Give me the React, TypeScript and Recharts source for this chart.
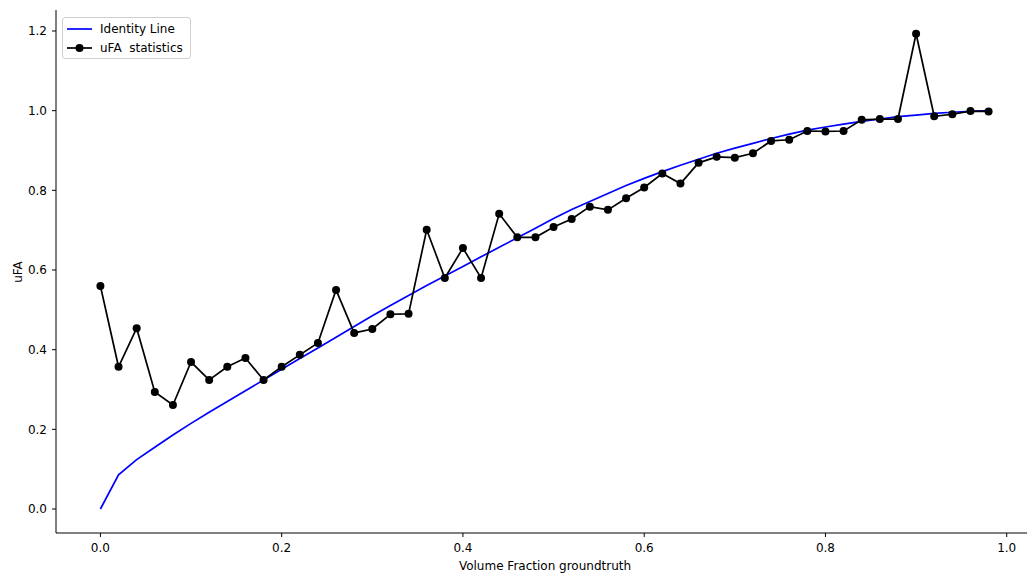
import { LineChart, Line, XAxis, YAxis, Label } from "recharts"

// x positions (volume fraction ground truth)
const fractions = [
  0, 0.02, 0.04, 0.06, 0.08, 0.1, 0.12, 0.14, 0.16, 0.18,
  0.2, 0.22, 0.24, 0.26, 0.28, 0.3, 0.32, 0.34, 0.36, 0.38,
  0.4, 0.42, 0.44, 0.46, 0.48, 0.5, 0.52, 0.54, 0.56, 0.58,
  0.6, 0.62, 0.64, 0.66, 0.68, 0.7, 0.72, 0.74, 0.76, 0.78,
  0.8, 0.82, 0.84, 0.86, 0.88, 0.9, 0.92, 0.94, 0.96, 0.98,
]

const identityLine = [
  0.0, 0.086, 0.124, 0.155, 0.186, 0.215, 0.243, 0.27, 0.297, 0.324,
  0.351, 0.378, 0.404, 0.431, 0.458, 0.485, 0.511, 0.536, 0.561, 0.585,
  0.609, 0.633, 0.657, 0.681, 0.705, 0.729, 0.752, 0.772, 0.792, 0.812,
  0.83, 0.847, 0.863, 0.878, 0.893, 0.906, 0.918, 0.93, 0.941, 0.951,
  0.959, 0.966, 0.973, 0.979, 0.985, 0.989, 0.993, 0.996, 0.998, 1.0,
]

const ufaStats = [
  0.56, 0.357, 0.454, 0.294, 0.261, 0.369, 0.324, 0.357, 0.379, 0.324,
  0.357, 0.387, 0.417, 0.55, 0.442, 0.452, 0.489, 0.49, 0.701, 0.58,
  0.655, 0.58, 0.741, 0.682, 0.682, 0.708, 0.728, 0.759, 0.751, 0.78,
  0.807, 0.842, 0.817, 0.869, 0.884, 0.882, 0.893, 0.924, 0.927, 0.949,
  0.948, 0.949, 0.977, 0.979, 0.979, 1.193, 0.986, 0.991, 0.999, 0.998,
]

const xTicks = [0, 0.2, 0.4, 0.6, 0.8, 1.0]
const yTicks = [0, 0.2, 0.4, 0.6, 0.8, 1.0, 1.2]

const data = fractions.map((f, i) => ({
  vf: f,
  identity: identityLine[i],
  ufa: ufaStats[i],
}))

const font = "'DejaVu Sans', sans-serif"

function LegendBox() {
  return (
    <div
      style={{
        position: "absolute",
        left: 62,
        top: 17,
        width: 127,
        height: 40,
        border: "1px solid #d0d0d0",
        borderRadius: 3,
        background: "rgba(255,255,255,0.8)",
        fontFamily: font,
        fontSize: 12,
        color: "#000",
        whiteSpace: "pre",
      }}
    >
      <div style={{ position: "absolute", left: 4, top: 3, height: 16, display: "flex", alignItems: "center" }}>
        <svg width={26} height={10}>
          <line x1={0} y1={5} x2={25} y2={5} stroke="#0000ff" strokeWidth={1.7} />
        </svg>
        <span style={{ marginLeft: 7 }}>Identity Line</span>
      </div>
      <div style={{ position: "absolute", left: 4, top: 22, height: 16, display: "flex", alignItems: "center" }}>
        <svg width={26} height={10}>
          <line x1={0} y1={5} x2={25} y2={5} stroke="#000" strokeWidth={1.7} />
          <circle cx={12.5} cy={5} r={4} fill="#000" />
        </svg>
        <span style={{ marginLeft: 7 }}>uFA  statistics</span>
      </div>
    </div>
  )
}

export default function App() {
  return (
    <div style={{ position: "absolute", left: 0, top: 0, width: 1027, height: 574, background: "#fff", fontFamily: font }}>
      <LineChart width={1027} height={574} data={data} margin={{ top: 10, right: -6, left: 0, bottom: 0 }}>
        <XAxis
          dataKey="vf"
          type="number"
          domain={[-0.049, 1.029]}
          allowDataOverflow
          ticks={xTicks}
          tickFormatter={(v: number) => v.toFixed(1)}
          tick={{ fontSize: 12, fill: "#000" }}
          tickSize={4}
          tickMargin={6}
          height={41}
          axisLine={{ stroke: "#000" }}
          tickLine={{ stroke: "#000" }}
        >
          <Label
            content={() => (
              <text x={545} y={566} textAnchor="middle" dominantBaseline="central" fontSize={12} fill="#000">
                Volume Fraction groundtruth
              </text>
            )}
          />
        </XAxis>
        <XAxis
          xAxisId="top"
          orientation="top"
          dataKey="vf"
          type="number"
          domain={[-0.049, 1.029]}
          allowDataOverflow
          height={0}
          tick={false}
          tickLine={false}
          axisLine={{ stroke: "#000" }}
        />
        <YAxis
          type="number"
          domain={[-0.0602, 1.2527]}
          allowDataOverflow
          ticks={yTicks}
          tickFormatter={(v: number) => v.toFixed(1)}
          tick={{ fontSize: 12, fill: "#000" }}
          tickSize={4}
          tickMargin={5}
          width={56}
          axisLine={{ stroke: "#000" }}
          tickLine={{ stroke: "#000" }}
        >
          <Label
            content={() => (
              <text
                x={18}
                y={272}
                transform="rotate(-90 18 272)"
                textAnchor="middle"
                dominantBaseline="central"
                fontSize={12}
                fill="#000"
              >
                uFA
              </text>
            )}
          />
        </YAxis>
        <Line
          dataKey="identity"
          type="linear"
          stroke="#0000ff"
          strokeWidth={1.7}
          dot={false}
          isAnimationActive={false}
        />
        <Line
          dataKey="ufa"
          type="linear"
          stroke="#000"
          strokeWidth={1.7}
          dot={{ r: 4, fill: "#000", stroke: "#000", strokeWidth: 0 }}
          activeDot={false}
          isAnimationActive={false}
        />
      </LineChart>
      <LegendBox />
    </div>
  )
}
